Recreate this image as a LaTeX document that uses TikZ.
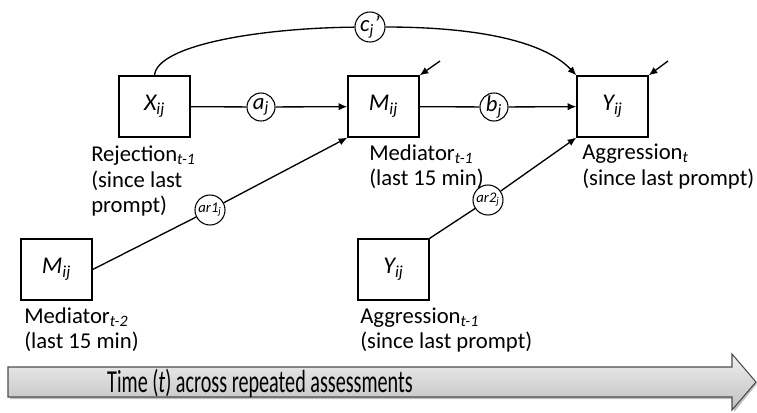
\documentclass[tikz,border=0pt]{standalone}
\usepackage{fontspec}
\setmainfont{Carlito}
\usetikzlibrary{arrows.meta}
\begin{document}
\begin{tikzpicture}[x=0.75pt,y=-0.75pt,
  box/.style={draw, line width=1pt, minimum width=53.25pt, minimum height=45.75pt, inner sep=0pt, font=\fontsize{18}{21}\selectfont\itshape},
  coef/.style={circle, draw, fill=white, line width=0.8pt, minimum size=#1, inner sep=0pt, font=\fontsize{17}{20}\selectfont\itshape},
  coef/.default=21pt,
  lbl/.style={anchor=base west, inner sep=0pt, font=\fontsize{17}{20}\selectfont},
  conn/.style={line width=1pt},
  arr/.style={conn, -{Latex[length=6.5pt,width=5.5pt]}}]
\useasboundingbox (0,0) rectangle (757,412);

% boxes
\node[box] (X) at (154.5,106.5) {X\textsubscript{ij}};
\node[box] (M) at (383.5,106.5) {M\textsubscript{ij}};
\node[box] (Y) at (612.5,106.5) {Y\textsubscript{ij}};
\node[box] (M2) at (56.5,269.5) {M\textsubscript{ij}};
\node[box] (Y2) at (393.5,269.5) {Y\textsubscript{ij}};

% coefficients
\node[coef=22.5pt] (c) at (370,27) {c\textsubscript{j}'};
\node[coef] (a) at (261,107) {a\textsubscript{j}};
\node[coef] (b) at (494,107) {b\textsubscript{j}};
\node[coef=22.5pt, font=\fontsize{11}{13}\selectfont\itshape] (ar1) at (210,210) {ar1\textsubscript{j}};
\node[coef=22.5pt, font=\fontsize{11}{13}\selectfont\itshape] (ar2) at (488,200) {ar2\textsubscript{j}};

% connectors
\draw[conn] (X) -- (a);
\draw[arr] (a) -- (M);
\draw[conn] (M) -- (b);
\draw[arr] (b) -- (Y);
\draw[conn] (X.north) .. controls (157,45) and (260,28) .. (c);
\draw[arr] (c) .. controls (480,27) and (545,42) .. (Y.north west);
\draw[conn] (M2.east) -- (ar1);
\draw[arr] (ar1) -- (M.south west);
\draw[conn] (Y2.north east) -- (ar2);
\draw[arr] (ar2) -- (Y.south west);

% disturbance arrows
\coordinate (em) at (440,61);
\coordinate (ey) at (668,61);
\draw[arr] (em) -- (M.north east);
\draw[arr] (ey) -- (Y.north east);

% labels
\node[lbl] (lx1) at (91,161) {Rejection\textsubscript{\textit{t-1}}};
\node[lbl] (lx2) at (91,187) {(since last};
\node[lbl] (lx3) at (91,212) {prompt)};
\node[lbl] (lm1) at (369,160) {Mediator\textsubscript{\textit{t-1}}};
\node[lbl] (lm2) at (369,185) {(last 15 min)};
\node[lbl] (ly1) at (582,159) {Aggression\textsubscript{\textit{t}}};
\node[lbl] (ly2) at (582,185) {(since last prompt)};
\node[lbl] (lm21) at (24,323) {Mediator\textsubscript{\textit{t-2}}};
\node[lbl] (lm22) at (24,348) {(last 15 min)};
\node[lbl] (ly21) at (360,323) {Aggression\textsubscript{\textit{t-1}}};
\node[lbl] (ly22) at (360,348) {(since last prompt)};

% time arrow
\fill[black, opacity=0.25] (10,369) -- (734,369) -- (734,356) -- (757,384) -- (734,412) -- (734,399) -- (10,399) -- cycle;
\draw[line width=0.8pt, draw=black!70, top color=black!6, bottom color=black!25]
  (8,367) -- (732,367) -- (732,354) -- (756,382) -- (732,410) -- (732,397) -- (8,397) -- cycle;
\node[inner sep=0pt, font=\fontsize{24}{28}\selectfont] (time) at (260,383)
  {\scalebox{0.63}[1]{Time (\textit{t}) across repeated assessments}};
\end{tikzpicture}
\end{document}
